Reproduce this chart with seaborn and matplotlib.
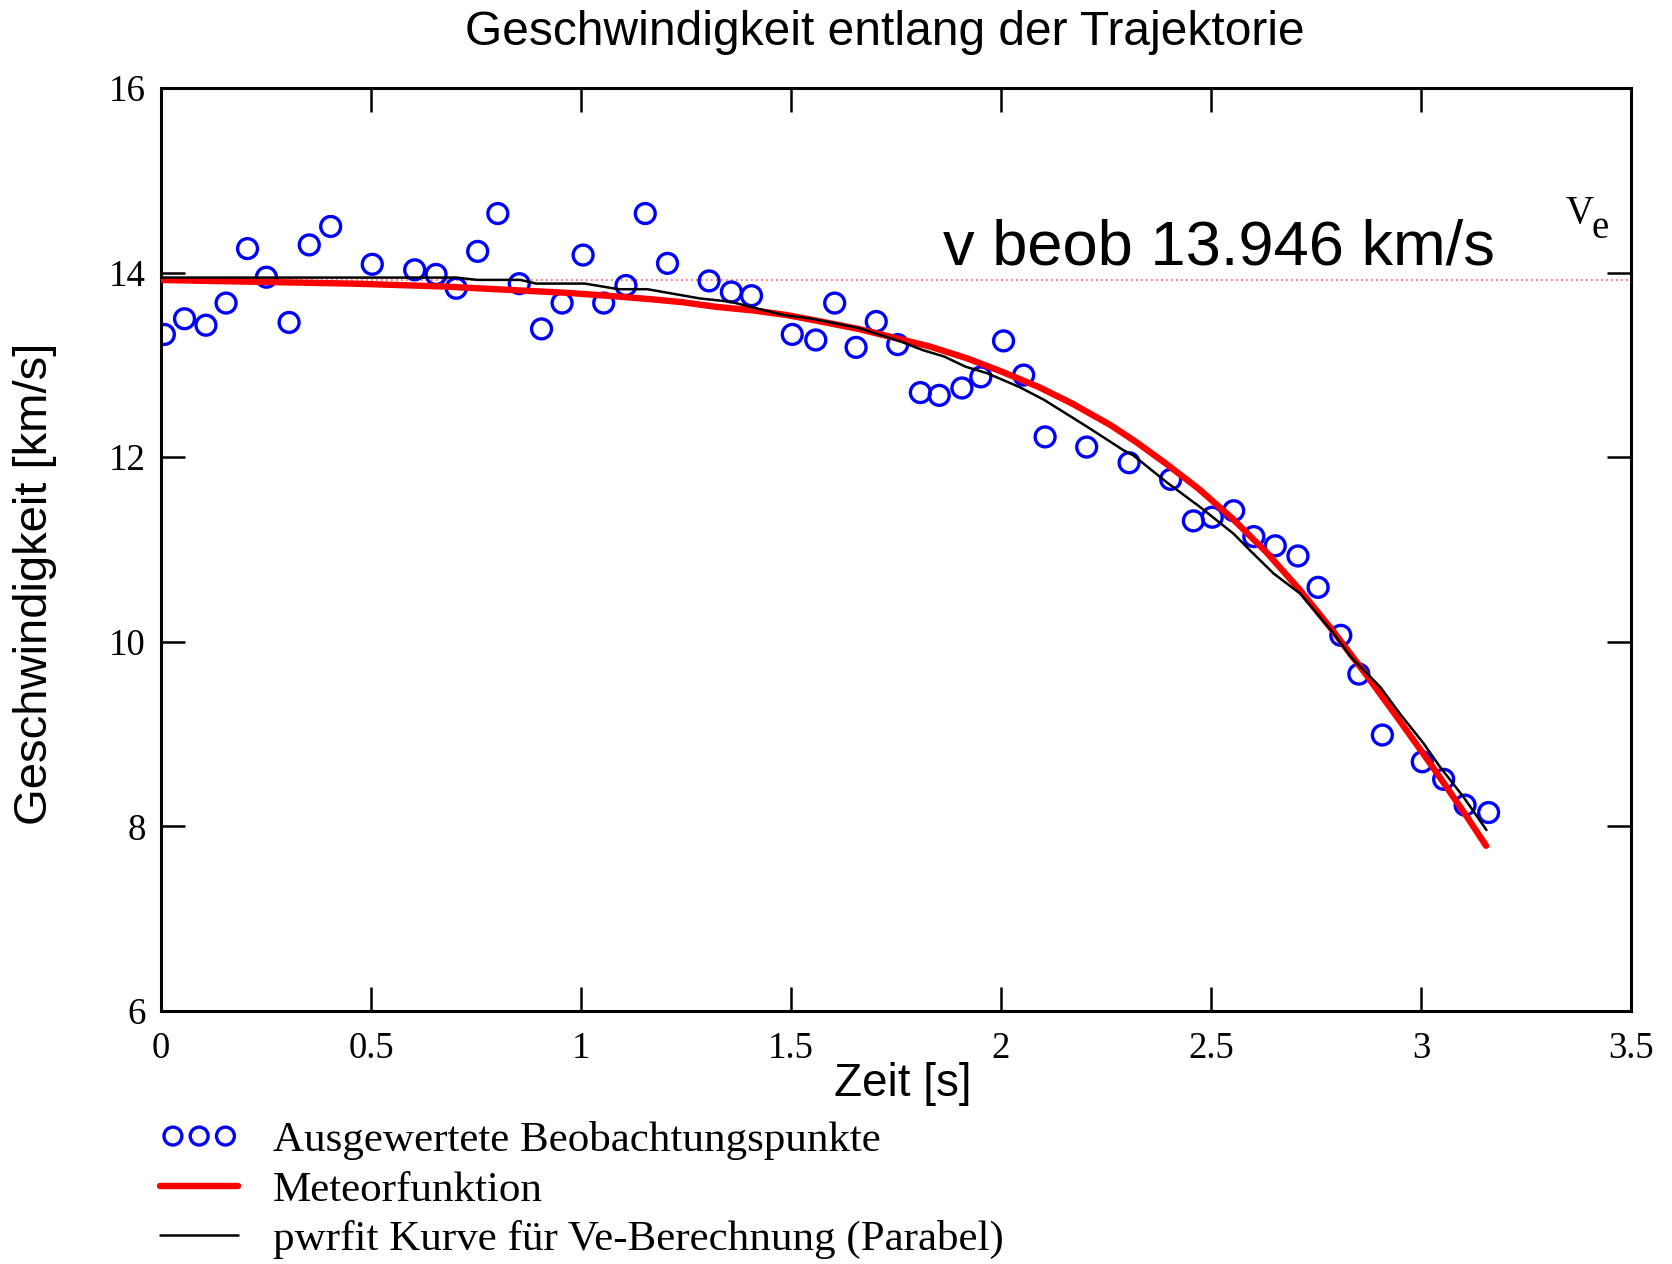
import numpy as np
import pandas as pd
import matplotlib
matplotlib.use("Agg")
import matplotlib.pyplot as plt
import seaborn as sns

# Beobachtete Geschwindigkeiten entlang der Trajektorie
zeit_beob = [0.008, 0.056, 0.107, 0.155, 0.206, 0.251, 0.305, 0.353, 0.404, 0.503,
             0.604, 0.655, 0.703, 0.754, 0.802, 0.853, 0.906, 0.955, 1.005, 1.054,
             1.107, 1.153, 1.206, 1.305, 1.358, 1.406, 1.503, 1.559, 1.604, 1.655,
             1.703, 1.754, 1.808, 1.853, 1.907, 1.952, 2.006, 2.054, 2.105, 2.204,
             2.305, 2.404, 2.458, 2.503, 2.554, 2.602, 2.653, 2.707, 2.755, 2.809,
             2.852, 2.908, 3.003, 3.054, 3.105, 3.161]
v_beob = [13.33, 13.50, 13.43, 13.67, 14.26, 13.95, 13.46, 14.30, 14.50, 14.09,
          14.03, 13.98, 13.83, 14.23, 14.64, 13.88, 13.39, 13.67, 14.19, 13.67,
          13.86, 14.64, 14.10, 13.91, 13.79, 13.75, 13.33, 13.27, 13.67, 13.19,
          13.47, 13.22, 12.70, 12.67, 12.75, 12.87, 13.26, 12.89, 12.22, 12.11,
          11.94, 11.76, 11.31, 11.35, 11.42, 11.14, 11.04, 10.93, 10.59, 10.07,
          9.65, 8.99, 8.70, 8.51, 8.23, 8.15]

# Meteorfunktion
zeit_meteor = [0.0, 0.46, 0.67, 0.84, 0.97, 1.09, 1.17, 1.24, 1.32, 1.41, 1.49,
               1.56, 1.66, 1.75, 1.83, 1.92, 2.00, 2.09, 2.17, 2.26, 2.32, 2.39,
               2.47, 2.55, 2.63, 2.71, 2.79, 2.87, 2.95, 3.03, 3.11, 3.155]
v_meteor = [13.92, 13.88, 13.85, 13.81, 13.78, 13.74, 13.71, 13.68, 13.63, 13.59, 13.54,
            13.48, 13.39, 13.29, 13.20, 13.07, 12.93, 12.76, 12.58, 12.35, 12.17, 11.94,
            11.66, 11.34, 10.98, 10.57, 10.12, 9.64, 9.14, 8.63, 8.10, 7.79]

# pwrfit-Kurve (Parabel) fuer die Ve-Berechnung
zeit_fit = [0.0, 0.702, 0.753, 0.855, 0.893, 1.009, 1.09, 1.158, 1.283, 1.355, 1.482,
            1.55, 1.661, 1.763, 1.814, 1.865, 1.916, 1.967, 2.044, 2.103, 2.205,
            2.29, 2.315, 2.394, 2.474, 2.554, 2.593, 2.649, 2.713, 2.792, 2.832,
            2.903, 2.95, 3.006, 3.046, 3.101, 3.156]
v_fit = [13.946, 13.946, 13.921, 13.921, 13.881, 13.881, 13.82, 13.82, 13.72, 13.685, 13.54,
         13.50, 13.40, 13.25, 13.16, 13.09, 12.98, 12.91, 12.76, 12.62, 12.33,
         12.08, 12.02, 11.73, 11.46, 11.17, 10.99, 10.74, 10.52, 10.09, 9.84,
         9.51, 9.22, 8.90, 8.64, 8.32, 7.96]

v_ref = 13.92
v_e_text = "v beob 13.946 km/s"

x_ticks = [0, 0.5, 1, 1.5, 2, 2.5, 3, 3.5]
x_ticklabels = ["0", "0.5", "1", "1.5", "2", "2.5", "3", "3.5"]
y_ticks = [6, 8, 10, 12, 14, 16]
y_ticklabels = ["6", "8", "10", "12", "14", "16"]

df_beob = pd.DataFrame({"t": zeit_beob, "v": v_beob})
df_meteor = pd.DataFrame({"t": zeit_meteor, "v": v_meteor})
df_fit = pd.DataFrame({"t": zeit_fit, "v": v_fit})

sns.set_theme(style="white")
SANS = ["Liberation Sans", "DejaVu Sans"]
SERIF = ["Liberation Serif", "DejaVu Serif"]
plt.rcParams["font.family"] = SANS
plt.rcParams.update({"text.color": "black", "axes.labelcolor": "black",
                     "xtick.color": "black", "ytick.color": "black"})

fig = plt.figure(figsize=(16.72, 12.64), dpi=100)
ax = fig.add_axes([161 / 1672, 1 - 1011 / 1264, 1470 / 1672, 923 / 1264])

ax.axhline(v_ref, color="#ff5a5a", lw=1.2, ls=(0, (1, 2)), zorder=1)

sns.scatterplot(data=df_beob, x="t", y="v", ax=ax, marker="o", s=205,
                facecolors="none", edgecolor="#0000ff", linewidth=2.4,
                label="Ausgewertete Beobachtungspunkte", zorder=2, legend=False)
sns.lineplot(data=df_meteor, x="t", y="v", ax=ax, color="#ff0000", lw=4.6,
             sort=False, estimator=None, label="Meteorfunktion", zorder=3, legend=False)
sns.lineplot(data=df_fit, x="t", y="v", ax=ax, color="black", lw=1.8,
             sort=False, estimator=None,
             label="pwrfit Kurve für Ve-Berechnung (Parabel)", zorder=4, legend=False)

ax.set_xlim(0, 3.5)
ax.set_ylim(6, 16)
ax.set_xticks(x_ticks)
ax.set_xticklabels(x_ticklabels, family=SERIF, fontsize=26.5)
ax.set_yticks(y_ticks)
ax.set_yticklabels(y_ticklabels, family=SERIF, fontsize=26.5)
ax.tick_params(axis="both", direction="in", length=17, width=1.8, color="black",
               labelcolor="black", top=True, right=True, bottom=True, left=True)
ax.tick_params(axis="x", pad=15)
ax.tick_params(axis="y", pad=11)
for sp in ax.spines.values():
    sp.set_color("black")
    sp.set_linewidth(2.2)

ax.set_title("Geschwindigkeit entlang der Trajektorie", fontsize=34.5,
             x=(885 - 161) / 1470, pad=31, family=SANS, color="black")
ax.set_xlabel("Zeit [s]", fontsize=33, family=SANS)
ax.xaxis.label.set_va("center")
ax.xaxis.set_label_coords((903 - 161) / 1470, (1011 - 1084) / 923)
ax.set_ylabel("Geschwindigkeit [km/s]", fontsize=34, family=SANS)
ax.yaxis.label.set_va("center")
ax.yaxis.set_label_coords((35 - 161) / 1470, (1011 - 584) / 923)

ax.text(1.861, 14.088, v_e_text, fontsize=45.5, family=SANS, ha="left",
        va="baseline", color="black")
ax.text(3.345, 14.54, "V", fontsize=28, family=SERIF, ha="left", va="baseline",
        color="black")
ax.text(3.405, 14.37, "e", fontsize=28, family=SERIF, ha="left", va="baseline",
        color="black")

handles, labels = ax.get_legend_handles_labels()
leg = fig.legend(handles, labels, loc="upper left",
                 bbox_to_anchor=(160 / 1672, 1 - 1121 / 1264),
                 frameon=False, prop={"family": SERIF, "size": 31},
                 scatterpoints=3, scatteryoffsets=[0.5], markerscale=0.9,
                 handlelength=1.82, handletextpad=0.8, labelspacing=0.24,
                 borderpad=0, borderaxespad=0)
for txt in leg.get_texts():
    txt.set_color("black")

fig.savefig("out.png", dpi=100, facecolor="white")
